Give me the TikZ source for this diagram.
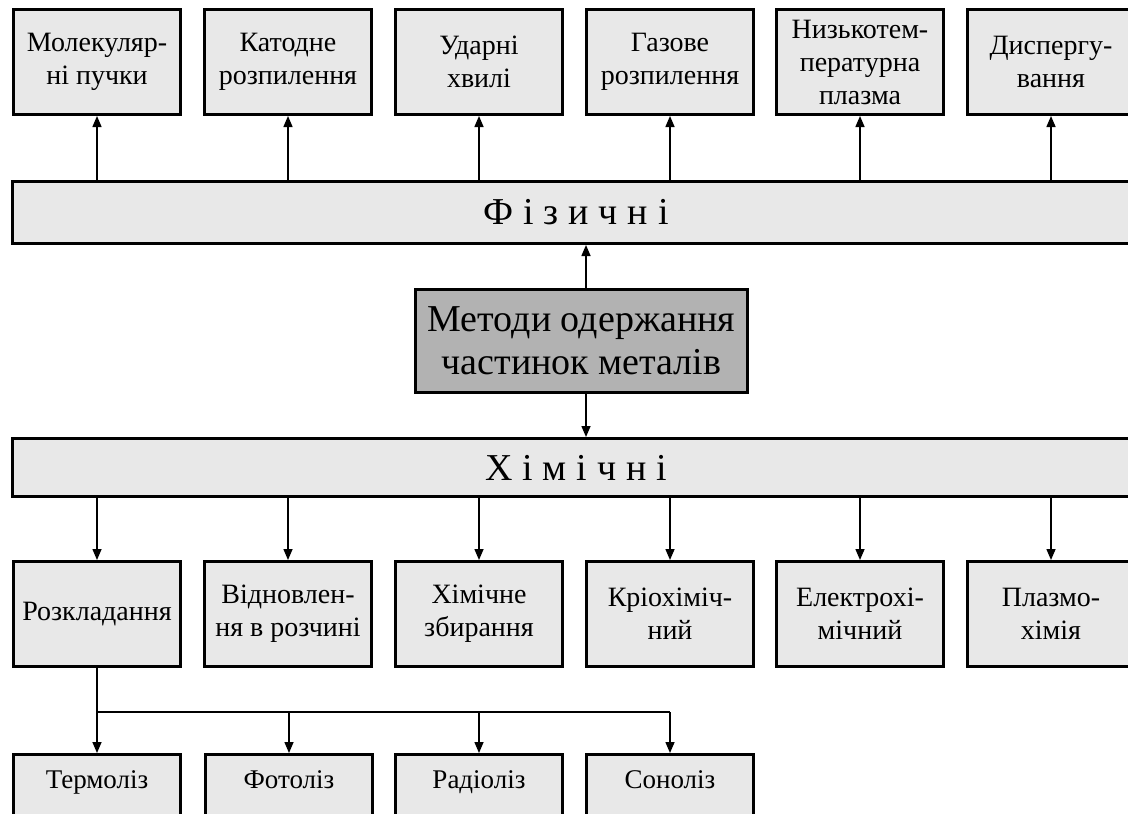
\documentclass[tikz,border=0pt]{standalone}
\usepackage{fontspec}
\IfFontExistsTF{LiberationSerif-Regular.ttf}{\setmainfont{LiberationSerif}[Extension=.ttf,UprightFont=*-Regular,BoldFont=*-Bold]}{\setmainfont{Liberation Serif}}
\usetikzlibrary{arrows.meta,calc}
\definecolor{boxgray}{HTML}{E8E8E8}
\definecolor{maingray}{HTML}{B2B2B2}
\newcommand{\lsp}{\hspace{0.26em}}
\begin{document}
\begin{tikzpicture}[x=1pt,y=-1pt,
  box/.style={draw, line width=3pt, fill=boxgray, minimum width=167pt, minimum height=105pt, inner sep=0pt, align=center, font=\fontsize{28}{33}\selectfont},
  bar/.style={draw, line width=3pt, fill=boxgray, minimum width=1128pt, inner sep=0pt, font=\fontsize{38}{40}\selectfont},
  mainbox/.style={draw, line width=3pt, fill=maingray, minimum width=332pt, minimum height=103pt, inner sep=0pt, align=center, font=\fontsize{38}{43}\selectfont},
  lbl/.style={anchor=base, inner sep=0pt, font=\fontsize{27}{33}\selectfont},
  arr/.style={line width=1.5pt, -{Triangle[length=11pt,width=9pt]}},
  ln/.style={line width=1.5pt}]
\path[use as bounding box] (0,0) rectangle (1128,814);
\clip (0,0) rectangle (1128,814);
% top row
\node[box] (t1) at (97,62) {Молекуляр-\\ні пучки};
\node[box] (t2) at (288,62) {Катодне\\розпилення};
\node[box] (t3) at (479,62) {Ударні\\хвилі};
\node[box] (t4) at (670,62) {Газове\\розпилення};
\node[box] (t5) at (860,62) {Низькотем-\\пературна\\плазма};
\node[box] (t6) at (1051,62) {Диспергу-\\вання};
% bars and main
\node[bar, minimum height=62pt] (fiz) at (576,212.5) {Ф\lsp і\lsp з\lsp и\lsp ч\lsp н\lsp і};
\node[mainbox] (mc) at (581.5,341) {Методи одержання\\частинок металів};
\node[bar, minimum height=58pt] (him) at (576,467.5) {Х\lsp і\lsp м\lsp і\lsp ч\lsp н\lsp і};
% bottom row
\node[box] (b1) at (97,614) {Розкладання};
\node[box] (b2) at (288,614) {Відновлен-\\ня в розчині};
\node[box] (b3) at (479,614) {Хімічне\\збирання};
\node[box] (b4) at (670,614) {Кріохіміч-\\ний};
\node[box] (b5) at (860,614) {Електрохі-\\мічний};
\node[box] (b6) at (1051,614) {Плазмо-\\хімія};
% lowest row
\node[box, minimum height=103pt] (l1) at (97,806) {};
\node[box, minimum height=103pt] (l2) at (289,806) {};
\node[box, minimum height=103pt] (l3) at (479,806) {};
\node[box, minimum height=103pt] (l4) at (670,806) {};
\node[lbl] (l1t) at (97,788) {Термоліз};
\node[lbl] (l2t) at (289,788) {Фотоліз};
\node[lbl] (l3t) at (479,788) {Радіоліз};
\node[lbl] (l4t) at (670,788) {Соноліз};
% connectors
\foreach \i in {1,...,6} {
  \draw[arr] (t\i.south |- fiz.north) -- (t\i.south);
  \draw[arr] (b\i.north |- him.south) -- (b\i.north);
}
\draw[arr] ([xshift=4.5]mc.north) -- ([xshift=4.5]mc.north |- fiz.south);
\draw[arr] ([xshift=4.5]mc.south) -- ([xshift=4.5]mc.south |- him.north);
\coordinate (split) at (97,712);
\draw[ln] (b1.south) -- (split) -- (split -| l4.north);
\foreach \i in {1,...,4} {
  \draw[arr] (split -| l\i.north) -- (l\i.north);
}
\end{tikzpicture}
\end{document}
